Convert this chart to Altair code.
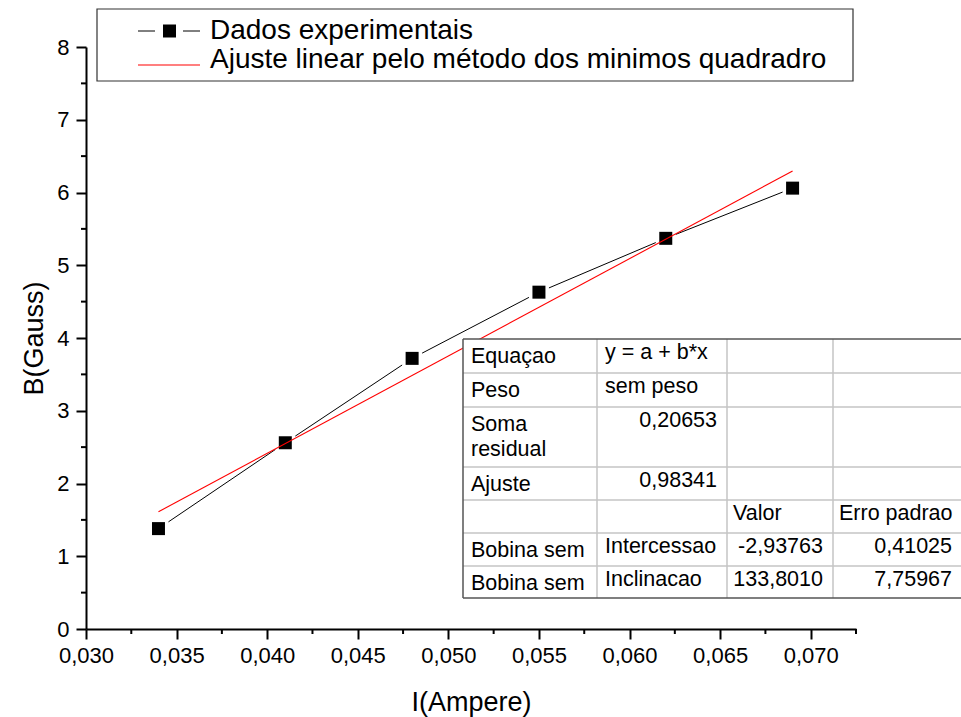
import altair as alt
import pandas as pd

# Medidas: corrente na bobina (A) e campo magnético (G)
corrente_A = [0.034, 0.041, 0.048, 0.055, 0.062, 0.069]
campo_G = [1.38, 2.56, 3.72, 4.63, 5.37, 6.06]

# Coeficientes do ajuste linear y = a + b*x
ajuste_a = -2.93763
ajuste_b = 133.8010
erro_a = 0.41025
erro_b = 7.75967
soma_residual = 0.20653
r2_ajuste = 0.98341

# Marcas dos eixos
x_major = [0.030, 0.035, 0.040, 0.045, 0.050, 0.055, 0.060, 0.065, 0.070]
x_minor = [0.0325, 0.0375, 0.0425, 0.0475, 0.0525, 0.0575, 0.0625, 0.0675, 0.0725]
y_major = [0, 1, 2, 3, 4, 5, 6, 7, 8]
y_minor = [0.5, 1.5, 2.5, 3.5, 4.5, 5.5, 6.5, 7.5]

legenda = ["Dados experimentais", "Ajuste linear pelo método dos minimos quadradro"]


def br(v, casas):
    return f"{v:.{casas}f}".replace(".", ",")


tabela_col0 = ["Equaçao", "Peso", "Soma\nresidual", "Ajuste", "", "Bobina sem", "Bobina sem"]
tabela_col1 = ["y = a + b*x", "sem peso", br(soma_residual, 5), br(r2_ajuste, 5), "",
               "Intercessao", "Inclinacao"]
tabela_col2 = ["", "", "", "", "Valor", br(ajuste_a, 5), br(ajuste_b, 4)]
tabela_col3 = ["", "", "", "", "Erro padrao", br(erro_a, 5), br(erro_b, 5)]

# ---- layout (pixels) ----
PAD_L, PAD_T, PAD_R, PAD_B = 86, 47, 105, 88
W, H = 770, 582
FONT = "Liberation Sans"
X_DOM = [0.030, 0.0725]
Y_DOM = [0, 8]

xs = alt.Scale(domain=X_DOM, nice=False, zero=False)
ys = alt.Scale(domain=Y_DOM, nice=False, zero=False)

dados = pd.DataFrame({"I": corrente_A, "B": campo_G})
x_fit = [corrente_A[0], corrente_A[-1]]
ajuste = pd.DataFrame({"I": x_fit, "B": [ajuste_a + ajuste_b * v for v in x_fit]})

x_axis = alt.Axis(
    values=x_major, title="I(Ampere)", grid=False, labelFlush=False,
    labelExpr="replace(format(datum.value, '.3f'), '.', ',')",
    titleY=81, titleBaseline="alphabetic",
)
y_axis = alt.Axis(
    values=y_major, title="B(Gauss)", grid=False, format="d", labelFlush=False,
    titleX=-44, titleBaseline="alphabetic", titleAngle=270,
)

enc = dict(x=alt.X("I:Q", scale=xs, axis=x_axis), y=alt.Y("B:Q", scale=ys, axis=y_axis))

linha = alt.Chart(dados).mark_line(color="black", strokeWidth=1).encode(**enc)
# halo branco: deixa uma pequena folga entre a linha e cada marcador
halo = alt.Chart(dados).mark_point(
    shape="square", filled=True, size=400, color="white", opacity=1
).encode(**enc)
pontos = alt.Chart(dados).mark_point(
    shape="square", filled=True, size=169, color="black", opacity=1
).encode(**enc)
reta = alt.Chart(ajuste).mark_line(color="#ff0000", strokeWidth=1.1).encode(**enc)

# ticks secundários (mesmas escalas dos eixos)
minor_x = alt.Chart(pd.DataFrame({"I": x_minor})).mark_rule(color="black", strokeWidth=2).encode(
    x=alt.X("I:Q", scale=xs, axis=x_axis), y=alt.value(H), y2=alt.value(H + 5)
)
minor_y = alt.Chart(pd.DataFrame({"B": y_minor})).mark_rule(color="black", strokeWidth=2).encode(
    y=alt.Y("B:Q", scale=ys, axis=y_axis), x=alt.value(0), x2=alt.value(-5)
)


# ---- legenda ----
def px(xabs):
    return xabs - PAD_L


def py(yabs):
    return yabs - PAD_T


one = pd.DataFrame({"k": [0]})
leg_box = alt.Chart(one).mark_rect(fill="white", stroke="#333333", strokeWidth=1.2).encode(
    x=alt.value(px(97)), x2=alt.value(px(853)), y=alt.value(py(9)), y2=alt.value(py(81))
)
leg_seg = pd.DataFrame({
    "x1": [px(138), px(183)], "x2": [px(155), px(200)],
    "y1": [py(31), py(31)],
})
leg_black = alt.Chart(leg_seg).mark_rule(color="black", strokeWidth=1).encode(
    x=alt.X("x1:Q", scale=None), x2="x2:Q", y=alt.Y("y1:Q", scale=None)
)
leg_sq = alt.Chart(one).mark_point(
    shape="square", filled=True, size=169, color="black", opacity=1
).encode(x=alt.value(px(169.5)), y=alt.value(py(31)))
leg_red = alt.Chart(one).mark_rule(color="#ff0000", strokeWidth=1.1).encode(
    x=alt.value(px(138)), x2=alt.value(px(200)), y=alt.value(py(65))
)
leg_txt = alt.Chart(pd.DataFrame({
    "t": legenda, "y": [py(39), py(68)]
})).mark_text(align="left", baseline="alphabetic", font=FONT, fontSize=28, color="black").encode(
    x=alt.value(px(210)), y=alt.Y("y:Q", scale=None), text="t:N"
)

# ---- tabela de parâmetros ----
col_edges = [463, 597, 727, 833, 962]
row_edges = [339, 373, 407, 467, 500, 533, 566, 598]

tab_bg = alt.Chart(one).mark_rect(fill="white").encode(
    x=alt.value(px(col_edges[0])), x2=alt.value(px(col_edges[-1])),
    y=alt.value(py(row_edges[0])), y2=alt.value(py(row_edges[-1])),
)
grid_rows = []
for r in row_edges[1:-1]:
    grid_rows.append({"x1": px(col_edges[0]), "x2": px(col_edges[-1]), "y1": py(r), "y2": py(r)})
for c in col_edges[1:-1]:
    grid_rows.append({"x1": px(c), "x2": px(c), "y1": py(row_edges[0]), "y2": py(row_edges[-1])})
tab_grid = alt.Chart(pd.DataFrame(grid_rows)).mark_rule(color="#c4c4c4", strokeWidth=1.5).encode(
    x=alt.X("x1:Q", scale=None), x2="x2:Q", y=alt.Y("y1:Q", scale=None), y2="y2:Q"
)
border_rows = [
    {"x1": px(col_edges[0]), "x2": px(col_edges[-1]), "y1": py(row_edges[0]), "y2": py(row_edges[0])},
    {"x1": px(col_edges[0]), "x2": px(col_edges[-1]), "y1": py(row_edges[-1]), "y2": py(row_edges[-1])},
    {"x1": px(col_edges[0]), "x2": px(col_edges[0]), "y1": py(row_edges[0]), "y2": py(row_edges[-1])},
]
tab_border = alt.Chart(pd.DataFrame(border_rows)).mark_rule(color="#555555", strokeWidth=1.5).encode(
    x=alt.X("x1:Q", scale=None), x2="x2:Q", y=alt.Y("y1:Q", scale=None), y2="y2:Q"
)


def eh_numero(s):
    return s != "" and s.replace(",", "").replace("-", "").isdigit()


celulas_esq, celulas_dir = [], []
colunas = [tabela_col0, tabela_col1, tabela_col2, tabela_col3]
for ci, col in enumerate(colunas):
    for ri, s in enumerate(col):
        if not s:
            continue
        top = row_edges[ri]
        yb = top + (24 if ci == 0 else 20)
        if eh_numero(s):
            celulas_dir.append({"t": s, "x": px(col_edges[ci + 1] - 10), "y": py(yb)})
        else:
            celulas_esq.append({"t": s, "x": px(col_edges[ci] + (8 if ci < 2 else 6)), "y": py(yb)})

tab_txt_l = alt.Chart(pd.DataFrame(celulas_esq)).mark_text(
    align="left", baseline="alphabetic", font=FONT, fontSize=21.5, color="black",
    lineBreak="\n", lineHeight=25,
).encode(x=alt.X("x:Q", scale=None), y=alt.Y("y:Q", scale=None), text="t:N")
tab_txt_r = alt.Chart(pd.DataFrame(celulas_dir)).mark_text(
    align="right", baseline="alphabetic", font=FONT, fontSize=21.5, color="black",
).encode(x=alt.X("x:Q", scale=None), y=alt.Y("y:Q", scale=None), text="t:N")

chart = alt.layer(
    linha, halo, pontos, reta, minor_x, minor_y,
    tab_bg, tab_grid, tab_border, tab_txt_l, tab_txt_r,
    leg_box, leg_black, leg_sq, leg_red, leg_txt,
).properties(
    width=W, height=H,
    autosize=alt.AutoSizeParams(type="none"),
    padding={"left": PAD_L, "top": PAD_T, "right": PAD_R, "bottom": PAD_B},
    background="white",
).configure_view(
    stroke="transparent"
).configure_axis(
    domainColor="black", domainWidth=2, tickColor="black", tickWidth=2, tickSize=10,
    labelFont=FONT, labelFontSize=22, labelColor="black",
    titleFont=FONT, titleFontSize=27, titleColor="black", titleFontWeight="normal",
).configure_axisX(labelPadding=6).configure_axisY(labelPadding=7)

chart.save("out.html", embed_options={"renderer": "svg", "actions": False})
